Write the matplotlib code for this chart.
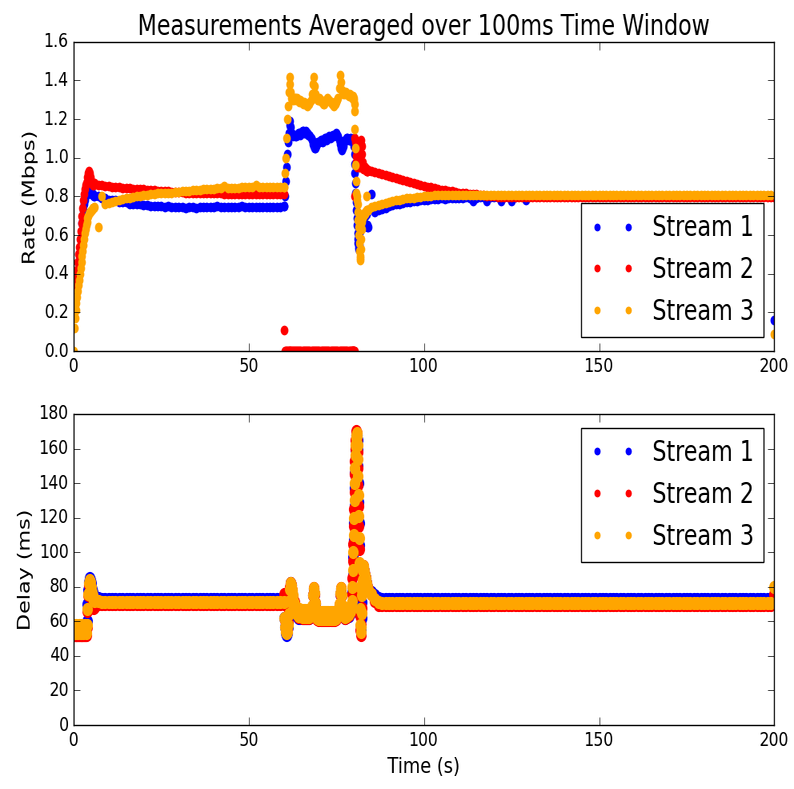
import io
import numpy as np
import matplotlib
matplotlib.use('Agg')
import matplotlib.pyplot as plt
from PIL import Image

# time stamps in seconds, with finer steps around the transitions
time_s = np.concatenate([
    np.linspace(0, 5.8, 30),
    np.arange(6, 60),
    np.linspace(60, 62.8, 15),
    np.linspace(63, 79.25, 66),
    np.linspace(79.5, 83.9, 45),
    np.arange(84, 100),
    np.arange(100, 201),
])
seg_len = [30, 54, 15, 66, 45, 16, 101]

labels = ['Stream 1', 'Stream 2', 'Stream 3']
colors = ['b', 'r', 'orange']

# ---- rate (Mbps) ----
rate1 = [
    [0.18, 0.22, 0.26, 0.30, 0.34, 0.38, 0.42, 0.46, 0.50, 0.54,
     0.58, 0.62, 0.66, 0.70, 0.73, 0.76, 0.78, 0.80, 0.81, 0.82,
     0.83, 0.84, 0.84, 0.83, 0.82, 0.81, 0.81, 0.81, 0.81, 0.80],
    [0.80, 0.80, 0.79, 0.79, 0.78, 0.78, 0.78, 0.77, 0.77, 0.77,
     0.76, 0.76, 0.76, 0.76, 0.755, 0.755, 0.75, 0.75, 0.75, 0.75,
     0.745, 0.75, 0.745, 0.745, 0.745, 0.745, 0.74, 0.745, 0.745, 0.74,
     0.745, 0.745, 0.745, 0.745, 0.745, 0.75, 0.745, 0.745, 0.745, 0.745,
     0.745, 0.745, 0.75, 0.745, 0.745, 0.745, 0.745, 0.745, 0.745, 0.745,
     0.745, 0.745, 0.745, 0.745],
    [0.75, 0.75, 0.80, 0.88, 0.95, 1.02, 1.08, 1.13, 1.17, 1.19,
     1.16, 1.13, 1.12, 1.11, 1.12],
    [1.12, 1.11, 1.11, 1.12, 1.12, 1.13, 1.13, 1.12, 1.13, 1.14,
     1.14, 1.13, 1.13, 1.14, 1.13, 1.13, 1.12, 1.12, 1.11, 1.10,
     1.09, 1.07, 1.06, 1.05, 1.05, 1.06, 1.07, 1.08, 1.08, 1.08,
     1.09, 1.09, 1.08, 1.09, 1.09, 1.10, 1.10, 1.09, 1.10, 1.10,
     1.11, 1.10, 1.11, 1.11, 1.12, 1.11, 1.12, 1.12, 1.13, 1.12,
     1.11, 1.09, 1.07, 1.05, 1.04, 1.05, 1.06, 1.08, 1.09, 1.09,
     1.10, 1.10, 1.09, 1.09, 1.10, 1.09],
    [1.09, 1.09, 1.08, 1.08, 1.08, 1.06, 1.02, 0.97, 0.92, 0.87,
     0.82, 0.77, 0.73, 0.69, 0.65, 0.61, 0.58, 0.56, 0.54, 0.53,
     0.53, 0.55, 0.58, 0.62, 0.65, 0.67, 0.68, 0.68, 0.69, 0.69,
     0.69, 0.69, 0.70, 0.70, 0.70, 0.70, 0.70, 0.70, 0.71, 0.71,
     0.71, 0.71, 0.71, 0.65, 0.64],
    [0.64, 0.81, 0.72, 0.73, 0.735, 0.74, 0.75, 0.755, 0.76, 0.76,
     0.765, 0.77, 0.77, 0.775, 0.775, 0.78],
    [0.78, 0.78, 0.785, 0.785, 0.785, 0.79, 0.785, 0.79, 0.79, 0.79,
     0.79, 0.79, 0.795, 0.79, 0.775, 0.79, 0.795, 0.795, 0.775, 0.795,
     0.795, 0.795, 0.775, 0.795, 0.795, 0.775, 0.795, 0.80, 0.80, 0.78,
     0.80, 0.80, 0.80, 0.80, 0.80, 0.80, 0.80, 0.80, 0.80, 0.80,
     0.80, 0.80, 0.80, 0.80, 0.80, 0.80, 0.80, 0.80, 0.80, 0.80,
     0.80, 0.80, 0.80, 0.80, 0.80, 0.80, 0.80, 0.80, 0.80, 0.80,
     0.80, 0.80, 0.80, 0.80, 0.80, 0.80, 0.80, 0.80, 0.80, 0.80,
     0.80, 0.80, 0.80, 0.80, 0.80, 0.80, 0.80, 0.80, 0.80, 0.80,
     0.80, 0.80, 0.80, 0.80, 0.80, 0.80, 0.80, 0.80, 0.80, 0.80,
     0.80, 0.80, 0.80, 0.80, 0.80, 0.80, 0.80, 0.80, 0.80, 0.80,
     0.16],
]

rate2 = [
    [0.22, 0.26, 0.30, 0.34, 0.38, 0.42, 0.46, 0.50, 0.54, 0.58,
     0.62, 0.66, 0.70, 0.74, 0.78, 0.81, 0.84, 0.86, 0.87, 0.88,
     0.90, 0.92, 0.93, 0.92, 0.90, 0.88, 0.87, 0.86, 0.87, 0.86],
    [0.87, 0.86, 0.86, 0.855, 0.855, 0.85, 0.85, 0.85, 0.845, 0.845,
     0.845, 0.84, 0.84, 0.84, 0.84, 0.835, 0.835, 0.835, 0.83, 0.83,
     0.83, 0.83, 0.825, 0.825, 0.825, 0.825, 0.82, 0.82, 0.82, 0.82,
     0.82, 0.815, 0.815, 0.815, 0.815, 0.815, 0.815, 0.81, 0.81, 0.81,
     0.81, 0.81, 0.81, 0.81, 0.81, 0.81, 0.81, 0.81, 0.81, 0.81,
     0.81, 0.81, 0.81, 0.81],
    [0.81, 0.11, 0.0, 0.0, 0.0, 0.0, 0.0, 0.0, 0.0, 0.0,
     0.0, 0.0, 0.0, 0.0, 0.0],
    [0.0, 0.0, 0.0, 0.0, 0.0, 0.0, 0.0, 0.0, 0.0, 0.0, 0.0,
     0.0, 0.0, 0.0, 0.0, 0.0, 0.0, 0.0, 0.0, 0.0, 0.0, 0.0,
     0.0, 0.0, 0.0, 0.0, 0.0, 0.0, 0.0, 0.0, 0.0, 0.0, 0.0,
     0.0, 0.0, 0.0, 0.0, 0.0, 0.0, 0.0, 0.0, 0.0, 0.0, 0.0,
     0.0, 0.0, 0.0, 0.0, 0.0, 0.0, 0.0, 0.0, 0.0, 0.0, 0.0,
     0.0, 0.0, 0.0, 0.0, 0.0, 0.0, 0.0, 0.0, 0.0, 0.0, 0.0],
    [0.0, 0.0, 0.0, 0.0, 0.0, 0.0, 0.0, 0.80, 1.10, 1.08,
     1.05, 1.01, 0.98, 0.96, 0.95, 0.96, 0.98, 0.99, 0.97, 0.96,
     0.95, 0.95, 0.96, 0.99, 1.03, 1.07, 1.09, 1.06, 1.02, 0.98,
     0.96, 0.95, 0.95, 0.94, 0.95, 0.94, 0.94, 0.95, 0.94, 0.94,
     0.94, 0.93, 0.94, 0.93, 0.93],
    [0.935, 0.93, 0.925, 0.92, 0.915, 0.91, 0.905, 0.90, 0.895, 0.89,
     0.885, 0.88, 0.875, 0.87, 0.865, 0.86],
    [0.855, 0.85, 0.846, 0.842, 0.838, 0.835, 0.832, 0.829, 0.826, 0.823,
     0.82, 0.818, 0.816, 0.814, 0.812, 0.81, 0.808, 0.806, 0.804, 0.802,
     0.80, 0.799, 0.798, 0.797, 0.796, 0.795, 0.795, 0.795, 0.795, 0.795,
     0.795, 0.795, 0.795, 0.795, 0.795, 0.795, 0.795, 0.795, 0.795, 0.795,
     0.795, 0.795, 0.795, 0.795, 0.795, 0.795, 0.795, 0.795, 0.795, 0.795,
     0.795, 0.795, 0.795, 0.795, 0.795, 0.795, 0.795, 0.795, 0.795, 0.795,
     0.795, 0.795, 0.795, 0.795, 0.795, 0.795, 0.795, 0.795, 0.795, 0.795,
     0.795, 0.795, 0.795, 0.795, 0.795, 0.795, 0.795, 0.795, 0.795, 0.795,
     0.795, 0.795, 0.795, 0.795, 0.795, 0.795, 0.795, 0.795, 0.795, 0.795,
     0.795, 0.795, 0.795, 0.795, 0.795, 0.795, 0.795, 0.795, 0.795, 0.795,
     0.795],
]

rate3 = [
    [0.0, 0.12, 0.17, 0.21, 0.25, 0.28, 0.31, 0.34, 0.37, 0.40,
     0.43, 0.46, 0.49, 0.52, 0.55, 0.58, 0.61, 0.63, 0.65, 0.67,
     0.69, 0.70, 0.71, 0.72, 0.72, 0.73, 0.73, 0.74, 0.74, 0.74],
    [0.745, 0.64, 0.80, 0.76, 0.765, 0.77, 0.775, 0.78, 0.785, 0.79,
     0.79, 0.795, 0.80, 0.80, 0.805, 0.805, 0.81, 0.81, 0.815, 0.815,
     0.82, 0.82, 0.82, 0.825, 0.825, 0.83, 0.83, 0.83, 0.835, 0.835,
     0.835, 0.84, 0.84, 0.84, 0.84, 0.845, 0.845, 0.855, 0.845, 0.845,
     0.845, 0.845, 0.85, 0.85, 0.85, 0.85, 0.86, 0.85, 0.85, 0.85,
     0.85, 0.85, 0.85, 0.85],
    [0.85, 0.85, 0.92, 1.00, 1.10, 1.20, 1.27, 1.34, 1.42, 1.38,
     1.34, 1.31, 1.30, 1.31, 1.30],
    [1.31, 1.31, 1.30, 1.31, 1.30, 1.30, 1.29, 1.30, 1.29, 1.29,
     1.28, 1.29, 1.28, 1.28, 1.28, 1.27, 1.28, 1.28, 1.29, 1.30,
     1.33, 1.38, 1.42, 1.37, 1.33, 1.31, 1.31, 1.30, 1.30, 1.31,
     1.30, 1.29, 1.29, 1.28, 1.28, 1.29, 1.30, 1.30, 1.31, 1.30,
     1.30, 1.29, 1.29, 1.28, 1.28, 1.27, 1.28, 1.28, 1.29, 1.30,
     1.31, 1.36, 1.43, 1.39, 1.35, 1.34, 1.33, 1.34, 1.33, 1.34,
     1.33, 1.33, 1.32, 1.33, 1.32, 1.32],
    [1.31, 1.32, 1.31, 1.32, 1.31, 1.30, 1.28, 1.24, 1.15, 1.05,
     0.96, 0.88, 0.82, 0.78, 0.80, 0.76, 0.72, 0.68, 0.64, 0.60,
     0.56, 0.52, 0.49, 0.47, 0.48, 0.53, 0.58, 0.63, 0.67, 0.69,
     0.70, 0.71, 0.71, 0.70, 0.71, 0.71, 0.72, 0.71, 0.72, 0.72,
     0.72, 0.73, 0.80, 0.73, 0.73],
    [0.73, 0.745, 0.75, 0.755, 0.76, 0.765, 0.77, 0.775, 0.78, 0.78,
     0.785, 0.79, 0.79, 0.79, 0.795, 0.795],
    [0.80, 0.80, 0.80, 0.805, 0.805, 0.805, 0.805, 0.805, 0.805, 0.805,
     0.805, 0.805, 0.805, 0.805, 0.805, 0.805, 0.805, 0.805, 0.805, 0.805,
     0.805, 0.805, 0.805, 0.805, 0.805, 0.805, 0.805, 0.805, 0.805, 0.805,
     0.805, 0.805, 0.805, 0.805, 0.805, 0.805, 0.805, 0.805, 0.805, 0.805,
     0.805, 0.805, 0.805, 0.805, 0.805, 0.805, 0.805, 0.805, 0.805, 0.805,
     0.805, 0.805, 0.805, 0.805, 0.805, 0.805, 0.805, 0.805, 0.805, 0.805,
     0.805, 0.805, 0.805, 0.805, 0.805, 0.805, 0.805, 0.805, 0.805, 0.805,
     0.805, 0.805, 0.805, 0.805, 0.805, 0.805, 0.805, 0.805, 0.805, 0.805,
     0.805, 0.805, 0.805, 0.805, 0.805, 0.805, 0.805, 0.805, 0.805, 0.805,
     0.805, 0.805, 0.805, 0.805, 0.805, 0.805, 0.805, 0.805, 0.805, 0.805,
     0.09],
]

# ---- delay (ms) ----
delay1 = [
    [56, 56, 56, 56, 56, 56, 56, 56, 56, 56,
     56, 56, 56, 56, 56, 56, 56, 56, 56, 60,
     70, 78, 83, 85, 84, 82, 79, 77, 75.5, 74.5],
    [74, 73.5, 73, 73, 73, 73, 73, 73, 73, 73,
     73, 73, 73, 73, 73, 73, 73, 73, 73, 73,
     73, 73, 73, 73, 73, 73, 73, 73, 73, 73,
     73, 73, 73, 73, 73, 73, 73, 73, 73, 73,
     73, 73, 73, 73, 73, 73, 73, 73, 73, 73,
     73, 73, 73, 73],
    [73, 62, 57, 53, 52, 53, 57, 63, 71, 78, 82, 81, 77, 73, 69],
    [70, 67, 65, 63, 66, 62, 66, 62, 66, 62,
     66, 62, 66, 62, 66, 62, 66, 62, 66, 63,
     68, 75, 79, 76, 70, 65, 62, 64.5, 61.5, 64.5,
     61.5, 64.5, 61.5, 64.5, 61.5, 64.5, 61.5, 64.5, 61.5, 64.5,
     61.5, 64.5, 61.5, 64.5, 61.5, 64.5, 61.5, 64.5, 62, 65,
     63, 69, 76, 79, 75, 68, 63, 65.5, 62, 65.5,
     62.5, 66, 63, 67, 65, 69],
    [70, 77, 87, 97, 107, 117, 127, 137, 146, 154,
     160, 165, 168, 168, 168, 165, 159, 150, 140, 129,
     117, 104, 90, 77, 65, 57, 55, 62, 71, 80,
     88, 91, 91, 90, 89, 88, 87, 86, 85, 84,
     83, 82, 81, 80, 79],
    [79, 77, 75, 73.5, 72.8, 72.8, 72.8, 72.8, 72.8, 72.8,
     72.8, 72.8, 72.8, 72.8, 72.8, 72.8],
    [72.8, 72.8, 72.8, 72.8, 72.8, 72.8, 72.8, 72.8, 72.8, 72.8,
     72.8, 72.8, 72.8, 72.8, 72.8, 72.8, 72.8, 72.8, 72.8, 72.8,
     72.8, 72.8, 72.8, 72.8, 72.8, 72.8, 72.8, 72.8, 72.8, 72.8,
     72.8, 72.8, 72.8, 72.8, 72.8, 72.8, 72.8, 72.8, 72.8, 72.8,
     72.8, 72.8, 72.8, 72.8, 72.8, 72.8, 72.8, 72.8, 72.8, 72.8,
     72.8, 72.8, 72.8, 72.8, 72.8, 72.8, 72.8, 72.8, 72.8, 72.8,
     72.8, 72.8, 72.8, 72.8, 72.8, 72.8, 72.8, 72.8, 72.8, 72.8,
     72.8, 72.8, 72.8, 72.8, 72.8, 72.8, 72.8, 72.8, 72.8, 72.8,
     72.8, 72.8, 72.8, 72.8, 72.8, 72.8, 72.8, 72.8, 72.8, 72.8,
     72.8, 72.8, 72.8, 72.8, 72.8, 72.8, 72.8, 72.8, 72.8, 72.8,
     72.8],
]

delay2 = [
    [52, 52, 52, 52, 52, 52, 52, 52, 52, 52,
     52, 52, 52, 52, 52, 52, 52, 52, 52, 57,
     66, 75, 81, 83, 81, 77, 73, 70, 68.5, 68],
    [68.5, 70, 70, 70, 70, 70, 70, 70, 70, 70,
     70, 70, 70, 70, 70, 70, 70, 70, 70, 70,
     70, 70, 70, 70, 70, 70, 70, 70, 70, 70,
     70, 70, 70, 70, 70, 70, 70, 70, 70, 70,
     70, 70, 70, 70, 70, 70, 70, 70, 70, 70,
     70, 70, 70, 70],
    [76, 70, 61, 56, 54, 55, 59, 66, 74, 80, 82, 81, 78, 74, 70],
    [71, 68, 66, 64, 66.5, 62.5, 66.5, 62.5, 66, 62,
     66, 62, 66, 62, 66, 62, 66, 62, 66, 63.5,
     68.5, 75, 79.5, 76, 70.5, 65.5, 61.5, 65, 61, 65,
     61, 65, 61, 65, 61, 65, 61, 65, 61, 65,
     61, 65, 61, 65, 61, 65, 61, 65, 61.5, 65.5,
     63.5, 69.5, 76, 79.5, 75, 68.5, 63.5, 66, 62, 66,
     62.5, 66.5, 63.5, 67.5, 65.5, 69.5],
    [76, 85, 95, 105, 115, 125, 135, 145, 153, 160,
     165, 168, 170, 169, 165, 158, 149, 139, 127, 115,
     102, 88, 75, 63, 55, 52, 58, 68, 78, 86,
     91, 92, 91, 90, 89, 88, 87, 86, 85, 84,
     83, 82, 81, 80, 79],
    [79, 76, 72, 69.3, 69.3, 69.3, 69.3, 69.3, 69.3, 69.3,
     69.3, 69.3, 69.3, 69.3, 69.3, 69.3],
    [69.3, 69.3, 69.3, 69.3, 69.3, 69.3, 69.3, 69.3, 69.3, 69.3,
     69.3, 69.3, 69.3, 69.3, 69.3, 69.3, 69.3, 69.3, 69.3, 69.3,
     69.3, 69.3, 69.3, 69.3, 69.3, 69.3, 69.3, 69.3, 69.3, 69.3,
     69.3, 69.3, 69.3, 69.3, 69.3, 69.3, 69.3, 69.3, 69.3, 69.3,
     69.3, 69.3, 69.3, 69.3, 69.3, 69.3, 69.3, 69.3, 69.3, 69.3,
     69.3, 69.3, 69.3, 69.3, 69.3, 69.3, 69.3, 69.3, 69.3, 69.3,
     69.3, 69.3, 69.3, 69.3, 69.3, 69.3, 69.3, 69.3, 69.3, 69.3,
     69.3, 69.3, 69.3, 69.3, 69.3, 69.3, 69.3, 69.3, 69.3, 69.3,
     69.3, 69.3, 69.3, 69.3, 69.3, 69.3, 69.3, 69.3, 69.3, 69.3,
     69.3, 69.3, 69.3, 69.3, 69.3, 69.3, 69.3, 69.3, 69.3, 69.3,
     76],
]

delay3 = [
    [58, 55.5, 53, 55.5, 58, 55.5, 53, 55.5, 58, 55.5,
     53, 55.5, 58, 55.5, 53, 55.5, 58, 55.5, 53.5, 58,
     67, 76, 82, 84, 83, 80, 77, 75, 73.5, 72.5],
    [72, 71.5, 71, 71, 71, 71, 71, 71, 71, 71,
     71, 71, 71, 71, 71, 71, 71, 71, 71, 71,
     71, 71, 71, 71, 71, 71, 71, 71, 71, 71,
     71, 71, 71, 71, 71, 71, 71, 71, 71, 71,
     71, 71, 71, 71, 71, 71, 71, 71, 71, 71,
     71, 71, 71, 71],
    [71, 62, 57, 54, 53, 54, 58, 64, 72, 79, 82, 81, 78, 75, 71],
    [70, 68, 66, 64.5, 67, 63, 67, 63, 66.5, 62.5,
     66.5, 62.5, 66.5, 62.5, 66.5, 62.5, 66.5, 62.5, 66.5, 64,
     69, 75.5, 79.5, 76.5, 70.5, 66, 62, 65.5, 61.5, 65.5,
     61.5, 65.5, 61.5, 65.5, 61.5, 65.5, 61.5, 65.5, 61.5, 65.5,
     61.5, 65.5, 61.5, 65.5, 61.5, 65.5, 61.5, 65.5, 62, 66,
     64, 70, 76.5, 79.5, 75.5, 69, 64, 66.5, 62.5, 66.5,
     63, 67, 64, 68, 66, 70],
    [72, 80, 90, 100, 110, 120, 130, 140, 149, 156,
     162, 166, 168, 169, 167, 162, 154, 144, 133, 121,
     108, 94, 80, 67, 58, 54, 57, 65, 75, 84,
     90, 92, 91, 90, 89, 88, 87, 86, 85, 84,
     83, 82, 81, 80, 79],
    [78, 76, 73, 71, 70.9, 70.9, 70.9, 70.9, 70.9, 70.9,
     70.9, 70.9, 70.9, 70.9, 70.9, 70.9],
    [70.9, 70.9, 70.9, 70.9, 70.9, 70.9, 70.9, 70.9, 70.9, 70.9,
     70.9, 70.9, 70.9, 70.9, 70.9, 70.9, 70.9, 70.9, 70.9, 70.9,
     70.9, 70.9, 70.9, 70.9, 70.9, 70.9, 70.9, 70.9, 70.9, 70.9,
     70.9, 70.9, 70.9, 70.9, 70.9, 70.9, 70.9, 70.9, 70.9, 70.9,
     70.9, 70.9, 70.9, 70.9, 70.9, 70.9, 70.9, 70.9, 70.9, 70.9,
     70.9, 70.9, 70.9, 70.9, 70.9, 70.9, 70.9, 70.9, 70.9, 70.9,
     70.9, 70.9, 70.9, 70.9, 70.9, 70.9, 70.9, 70.9, 70.9, 70.9,
     70.9, 70.9, 70.9, 70.9, 70.9, 70.9, 70.9, 70.9, 70.9, 70.9,
     70.9, 70.9, 70.9, 70.9, 70.9, 70.9, 70.9, 70.9, 70.9, 70.9,
     70.9, 70.9, 70.9, 70.9, 70.9, 70.9, 70.9, 70.9, 70.9, 70.9,
     80],
]


def join(parts, name):
    for i, (p, n) in enumerate(zip(parts, seg_len)):
        assert len(p) == n, '%s segment %d has %d values, expected %d' % (name, i, len(p), n)
    return np.concatenate(parts)


rates = [join(rate1, 'rate1'), join(rate2, 'rate2'), join(rate3, 'rate3')]
delays = [join(delay1, 'delay1'), join(delay2, 'delay2'), join(delay3, 'delay3')]

plt.style.use('classic')
plt.rcParams['figure.facecolor'] = 'white'
plt.rcParams['savefig.facecolor'] = 'white'

fig = plt.figure(figsize=(9.925, 7.89), dpi=100)
ax1 = fig.add_axes([0.0926, 0.5551, 0.8822, 0.392])
ax2 = fig.add_axes([0.0926, 0.0811, 0.8822, 0.3942])

for vals, c, lab in zip(rates, colors, labels):
    ax1.plot(time_s, vals, 'o', color=c, mec=c, mew=0, ms=7, label=lab)
for vals, c, lab in zip(delays, colors, labels):
    ax2.plot(time_s, vals, 'o', color=c, mec=c, mew=0, ms=9.5, label=lab)

ax1.set_xlim(0, 200)
ax1.set_ylim(0, 1.6)
ax1.set_xticks(np.arange(0, 201, 50))
ax1.set_yticks(np.arange(0, 1.61, 0.2))
ax1.set_ylabel('Rate (Mbps)', fontsize=16)
ax1.set_title('Measurements Averaged over 100ms Time Window', fontsize=20)
ax1.legend(loc='lower right', numpoints=2, fontsize=20, markerscale=0.8)

ax2.set_xlim(0, 200)
ax2.set_ylim(0, 180)
ax2.set_xticks(np.arange(0, 201, 50))
ax2.set_yticks(np.arange(0, 181, 20))
ax2.set_ylabel('Delay (ms)', fontsize=16)
ax2.set_xlabel('Time (s)', fontsize=16)
ax2.legend(loc='upper right', numpoints=2, fontsize=20, markerscale=0.59)

for ax in (ax1, ax2):
    ax.tick_params(labelsize=14, length=6)

# render wide, then squeeze to the final 794 px width
buf = io.BytesIO()
fig.savefig(buf, format='png', dpi=100, facecolor='white')
buf.seek(0)
Image.open(buf).convert('RGB').resize((794, 789), Image.LANCZOS).save('out.png')
